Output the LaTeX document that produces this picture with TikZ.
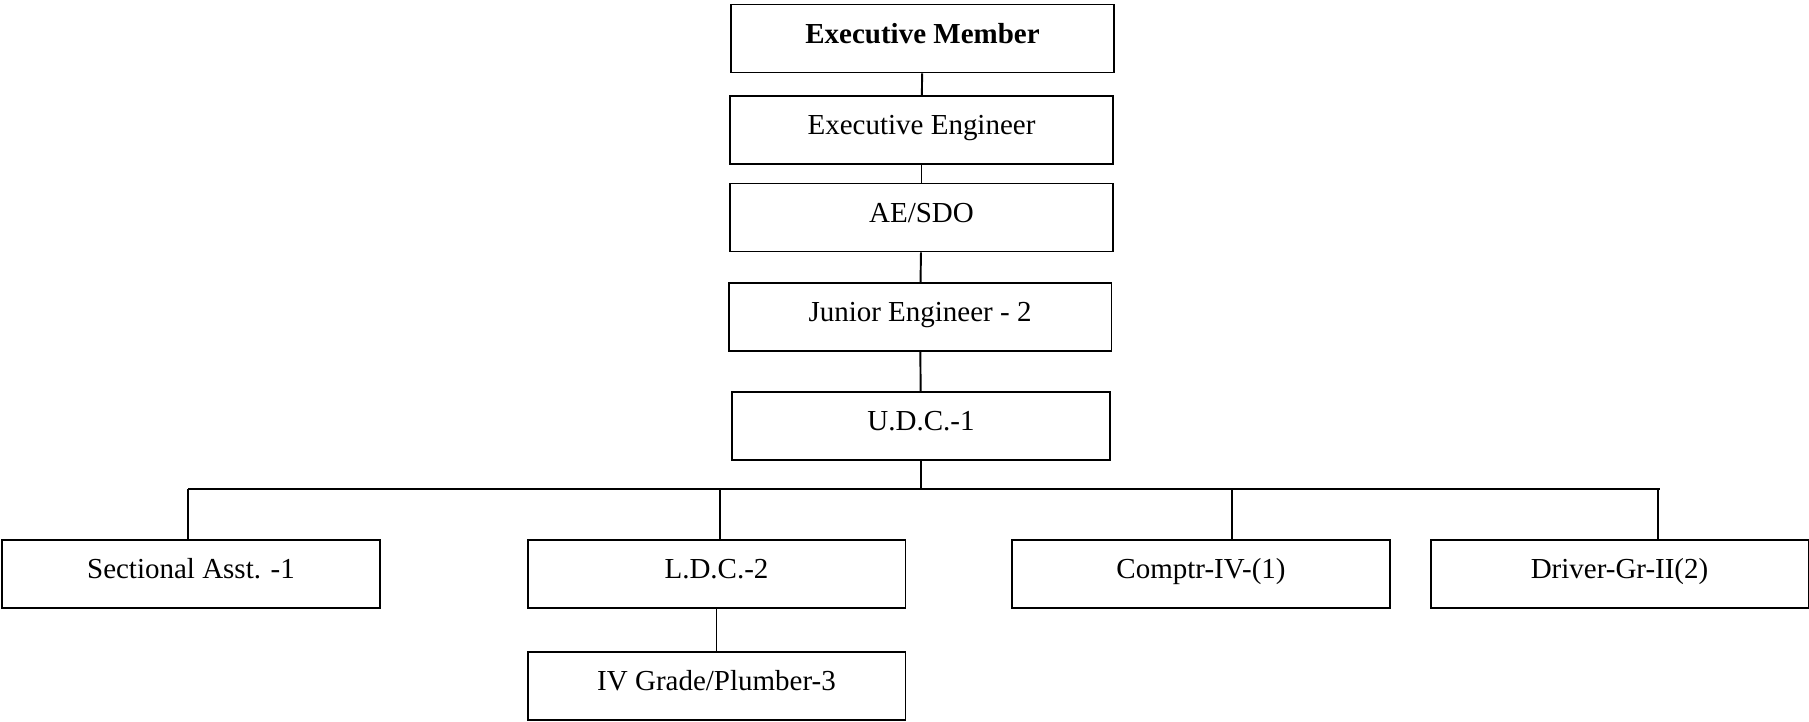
\documentclass[tikz,border=0pt]{standalone}
\usepackage{fontspec}
\setmainfont{Liberation Serif}
\usetikzlibrary{positioning, calc}

\begin{document}
\begin{tikzpicture}[
    x=0.02cm, y=-0.02cm,
    % Define the box styles of the chart
    post/.style={rectangle, draw=black, line width=1.1pt, minimum width=7.56cm, minimum height=1.36cm, inner sep=0pt, text height=9pt, text depth=3.7pt, font=\fontsize{16.5}{18}\selectfont},
    toppost/.style={post, minimum width=7.66cm},
    link/.style={draw=black, line width=1.1pt}
]
    \useasboundingbox (0,0) rectangle (1809,721);

    % --- Top Column ---
    \node[toppost] (em) at (922.5, 38.5) {\textbf{Executive Member}};
    \node[toppost] (ee) at (921.5, 130) {Executive Engineer};
    \node[toppost] (ae) at (921.5, 217.5) {AE/SDO};
    \node[toppost] (je) at (920, 317) {Junior Engineer - 2};
    \node[post] (udc) at (921, 426) {U.D.C.-1};

    % --- Bottom Row ---
    \node[post] (sa) at (191, 574) {Sectional Asst. -1};
    \node[post] (ldc) at (716.5, 574) {L.D.C.-2};
    \node[post] (cmp) at (1201, 574) {Comptr-IV-(1)};
    \node[post] (drv) at (1619.5, 574) {Driver-Gr-II(2)};
    \node[post] (ivg) at (716.5, 686) {IV Grade/Plumber-3};

    % --- Vertical Links ---
    \draw[link] (em) -- (ee);
    \draw[link] (ee) -- (ae);
    \draw[link] (ae) -- (je);
    \draw[link] (je) -- (udc);
    \draw[link] (ldc) -- (ivg);

    % --- Horizontal Bus ---
    \coordinate (busL) at (188, 489);
    \coordinate (busR) at (1660, 489);
    \draw[link] (busL) -- (busR);
    \draw[link] (udc.south) -- (udc.south |- busL);

    % Drops from the bus to each box
    \foreach \n/\x in {sa/188, ldc/720, cmp/1232, drv/1658} {
        \coordinate (d_\n) at (\x, 489);
        \draw[link] (d_\n) -- (d_\n |- \n.north);
    }
\end{tikzpicture}
\end{document}
